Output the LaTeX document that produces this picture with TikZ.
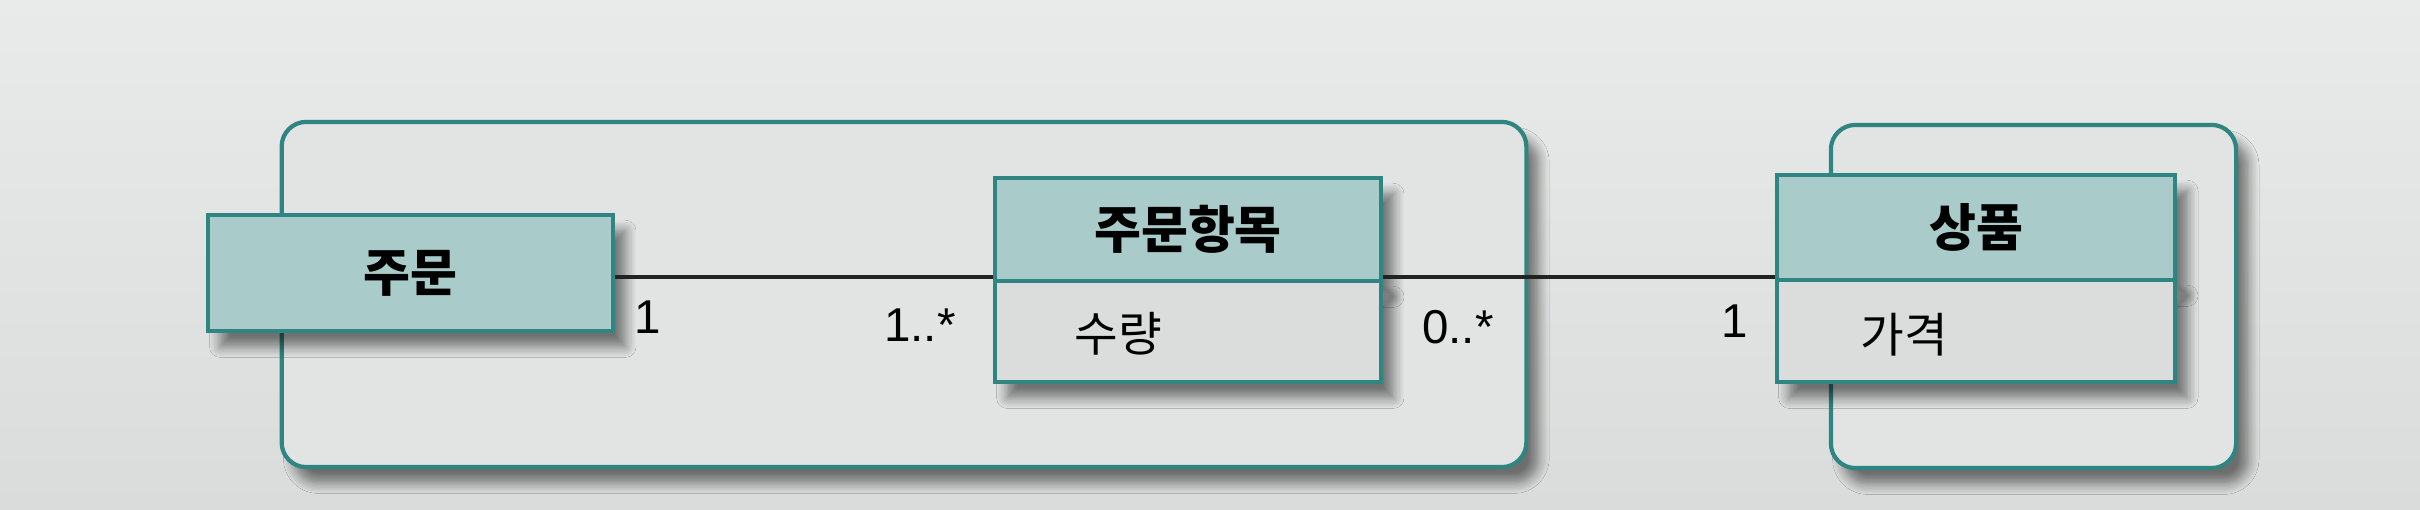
\documentclass[tikz,border=0pt]{standalone}
\usepackage{fontspec}
\setmainfont{Noto Sans CJK KR}
\newfontfamily\kr{Noto Sans CJK KR}
\newfontfamily\num{Liberation Sans}
\usetikzlibrary{shadows.blur}
\definecolor{bgtop}{HTML}{E9EBEA}
\definecolor{bgbot}{HTML}{D9DCDA}
\definecolor{bgmid}{HTML}{E1E4E2}
\definecolor{teal}{HTML}{2F8582}
\definecolor{hdrfill}{HTML}{A9CCCA}
\definecolor{attrfill}{HTML}{DADDDC}
\definecolor{linecol}{HTML}{222222}
\tikzset{
  shad/.style={blur shadow={shadow xshift=3.5pt, shadow yshift=-4.5pt, shadow blur radius=3pt, shadow blur steps=8, shadow opacity=50}},
  frame/.style={draw=teal, line width=1.2pt, rounded corners=7pt, fill=bgmid, shad},
  hdr/.style={draw=teal, line width=1.2pt, fill=hdrfill, shad, inner sep=0pt,
    font=\kr\bfseries\fontsize{14.5}{16}\selectfont},
  attrbox/.style={draw=teal, line width=1.2pt, fill=attrfill, shad, inner sep=0pt},
  attrtxt/.style={font=\kr\fontsize{13.5}{15}\selectfont, inner sep=0pt},
  mult/.style={font=\num\fontsize{13.5}{15}\selectfont, inner sep=0pt},
  assoc/.style={draw=linecol, line width=0.9pt}
}
\begin{document}
\begin{tikzpicture}[x=0.01cm,y=-0.01cm]
\useasboundingbox (0,0) rectangle (2420,510);
\shade[top color=bgtop, bottom color=bgbot] (0,0) rectangle (2420,510);
% outer frames
\node[frame, minimum width=12.44cm, minimum height=3.45cm] (f1) at (904,294.5) {};
\node[frame, minimum width=4.05cm, minimum height=3.43cm] (f2) at (2033.5,296.5) {};
% classes
\node[hdr, minimum width=4.05cm, minimum height=1.16cm] (ord) at (410.5,273) {주문};
\node[hdr, minimum width=3.86cm, minimum height=1.03cm] (itemh) at (1188,229.5) {주문항목};
\node[attrbox, minimum width=3.86cm, minimum height=1.01cm] (itema) at (1188,331.5) {};
\node[hdr, minimum width=3.98cm, minimum height=1.05cm] (prodh) at (1976,227.5) {상품};
\node[attrbox, minimum width=3.98cm, minimum height=1.02cm] (proda) at (1976,331) {};
\node[attrtxt] (qty) at (1118,334) {수량};
\node[attrtxt] (price) at (1904,335) {가격};
% associations
\coordinate (y1) at (0,277);
\draw[assoc] (ord.east |- y1) -- (itemh.west |- y1);
\draw[assoc] (itemh.east |- y1) -- (prodh.west |- y1);
% multiplicities
\node[mult] (m1) at (648,317) {1};
\node[mult] (m2) at (920,325) {1..*};
\node[mult] (m3) at (1458,327) {0..*};
\node[mult] (m4) at (1735,321) {1};
\end{tikzpicture}
\end{document}
